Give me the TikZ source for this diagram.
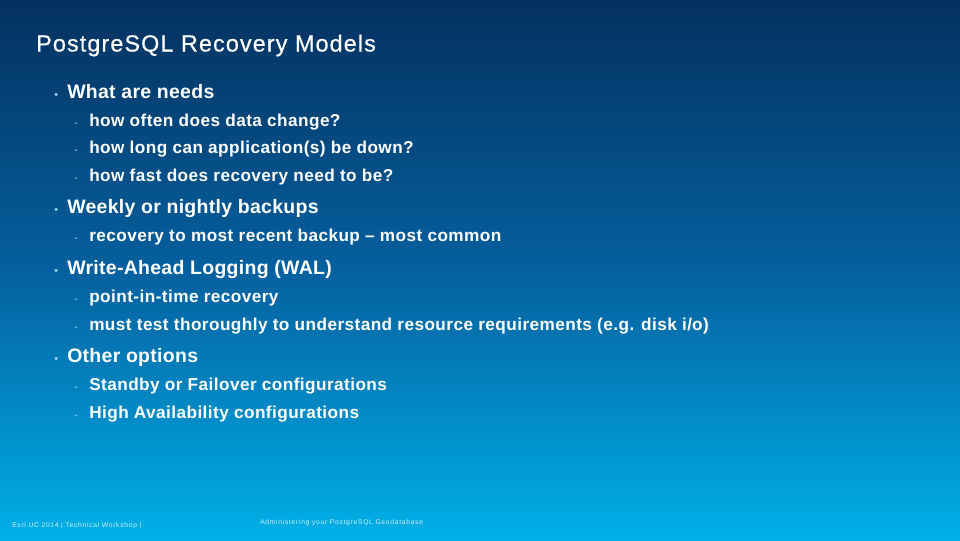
\documentclass[tikz,border=0pt]{standalone}
\usepackage{fontspec}
\setmainfont{Liberation Sans}
\newfontfamily\titlefont[FakeBold=0.5,LetterSpace=4.8]{Liberation Sans}
\newfontfamily\onefont[LetterSpace=1.5]{Liberation Sans Bold}
\newfontfamily\twofont[LetterSpace=2.5]{Liberation Sans Bold}
\newfontfamily\footfont[LetterSpace=10.5]{Liberation Sans}
\definecolor{bgtop}{HTML}{04315F}
\definecolor{bgmid}{HTML}{05609F}
\definecolor{bgbot}{HTML}{00B0E8}
\definecolor{markc}{HTML}{9FD8F5}
\definecolor{footc}{HTML}{D8F2FC}
\tikzset{
 px/.style={x=0.75pt,y=-0.75pt},
 title/.style={anchor=base west,inner sep=0,text=white,font=\titlefont\fontsize{17.5pt}{18pt}\selectfont},
 lone/.style={anchor=base west,inner sep=0,text=white,font=\onefont\fontsize{14.6pt}{16pt}\selectfont},
 ltwo/.style={anchor=base west,inner sep=0,text=white,font=\twofont\fontsize{12.9pt}{14pt}\selectfont},
 mark1/.style={anchor=base west,inner sep=0,text=markc,font=\fontsize{8pt}{8pt}\selectfont},
 foot/.style={anchor=base west,inner sep=0,text=footc,font=\footfont\fontsize{5.05pt}{6pt}\selectfont},
}
\begin{document}
\begin{tikzpicture}[px]
\useasboundingbox (0,0) rectangle (960,540);
\shade[top color=bgtop,bottom color=bgmid] (0,0) rectangle (960,270);
\shade[top color=bgmid,bottom color=bgbot] (0,270) rectangle (960,540);
\node[title] (t) at (36,51.5) {PostgreSQL Recovery Models};
\foreach \n/\y/\s in {a/98/What are needs,b/213/Weekly or nightly backups,c/274/Write-Ahead Logging (WAL),d/362/Other options}{
 \node[mark1] (m\n) at (54,\y) {•};
 \node[lone] (\n) at (67,\y) {\s};
}
\foreach \n/\y/\s in {a1/126/how often does data change?,a2/153/how long can application(s) be down?,a3/181/how fast does recovery need to be?,b1/241/recovery to most recent backup – most common,c1/302/point-in-time recovery,c2/330/{must test thoroughly to understand resource requirements (e.g. disk i\slash o)},d1/390/Standby or Failover configurations,d2/418/High Availability configurations}{
 \node[mark1] (m\n) at (74,\y) {-};
 \node[ltwo] (\n) at (89,\y) {\s};
}
\node[foot] (f1) at (12,527) {Esri UC 2014 | Technical Workshop |};
\node[foot] (f2) at (260,524) {Administering your PostgreSQL Geodatabase};
\end{tikzpicture}
\end{document}
